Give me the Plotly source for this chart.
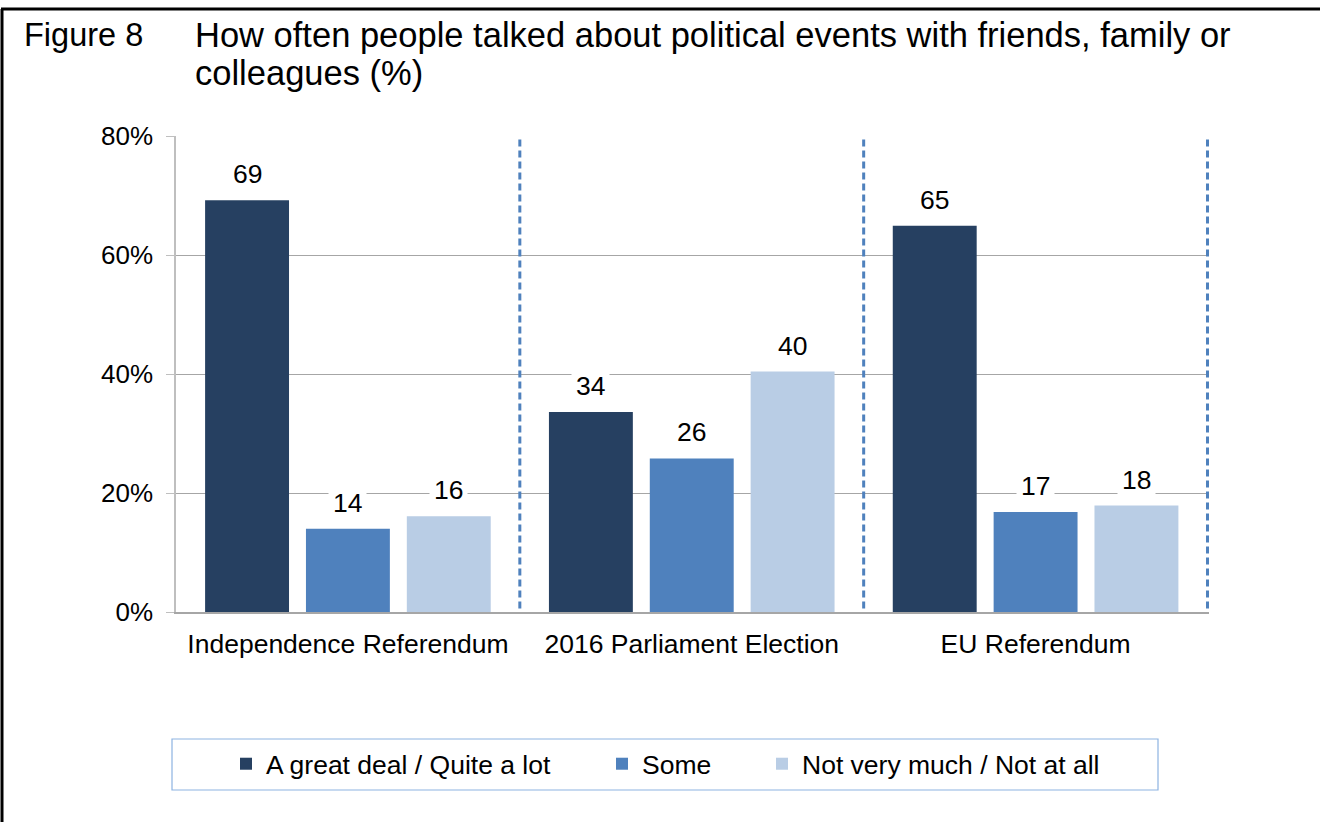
import plotly.graph_objects as go

# ---------------- data ----------------
categories = ["Independence Referendum", "2016 Parliament Election", "EU Referendum"]
series_names = ["A great deal / Quite a lot", "Some", "Not very much / Not at all"]
great_deal = [69.2, 33.6, 64.9]
some = [14.0, 25.8, 16.8]
not_much = [16.1, 40.4, 17.9]
series_values = [great_deal, some, not_much]
y_ticks = [0, 20, 40, 60, 80]
y_tick_labels = ["0%", "20%", "40%", "60%", "80%"]
title_label = "Figure 8"
title_lines = ["How often people talked about political events with friends, family or",
               "colleagues (%)"]

# ---------------- style ----------------
colors = ["#264061", "#4F81BD", "#B9CDE5"]
FONT = "Liberation Sans, Arial, sans-serif"
W, H = 1320, 822
L, R, T, B = 176, 1209, 136, 612
BARGAP = 0.12
GROUPGAP = 0.168


def px_x(p):
    return (p - L) / (R - L)


def px_y(p):
    return (B - p) / (B - T)


fig = go.Figure()
legend_ids = ["legend", "legend2", "legend3"]
for name, vals, col, lg in zip(series_names, series_values, colors, legend_ids):
    fig.add_trace(go.Bar(
        x=categories, y=vals, name=name, marker_color=col,
        marker_line_width=0, legend=lg, hoverinfo="skip",
    ))

# data labels
n = len(series_names)
slot = (1 - BARGAP) / n
annotations = []
for j, vals in enumerate(series_values):
    for i, v in enumerate(vals):
        annotations.append(dict(
            x=i + (j - (n - 1) / 2) * slot, y=v, xref="x", yref="y",
            text=f"{round(v):d}", showarrow=False, yanchor="middle", yshift=26,
            font=dict(family=FONT, size=26.5, color="#000000"),
            bgcolor="#FFFFFF", borderpad=4,
        ))

# title
annotations.append(dict(
    x=px_x(22), y=px_y(35), xref="paper", yref="paper", xanchor="left", yanchor="middle",
    text=title_label, showarrow=False, font=dict(family=FONT, size=32.5, color="#000000")))
for k, line in enumerate(title_lines):
    annotations.append(dict(
        x=px_x(193), y=px_y(35 + 38 * k), xref="paper", yref="paper", xanchor="left",
        yanchor="middle", text=line, showarrow=False,
        font=dict(family=FONT, size=34.5, color="#000000")))

shapes = []
# dashed category separators
for s in range(len(categories)):
    shapes.append(dict(type="line", xref="x", yref="y", x0=s + 0.5, x1=s + 0.5,
                       y0=0.6, y1=80, layer="above",
                       line=dict(color="#4F81BD", width=3, dash="7px,4px")))
# legend box
shapes.append(dict(type="rect", xref="paper", yref="paper",
                   x0=px_x(172), x1=px_x(1158), y0=px_y(790), y1=px_y(739),
                   line=dict(color="#8DB3E2", width=1.2), fillcolor="rgba(0,0,0,0)"))
# outer border lines (left and top)
shapes.append(dict(type="line", xref="paper", yref="paper",
                   x0=px_x(2), x1=px_x(2), y0=px_y(9), y1=px_y(830),
                   line=dict(color="#000000", width=3)))
shapes.append(dict(type="line", xref="paper", yref="paper",
                   x0=px_x(1), x1=px_x(1330), y0=px_y(9), y1=px_y(9),
                   line=dict(color="#000000", width=3)))

legend_common = dict(orientation="h", bgcolor="rgba(0,0,0,0)", borderwidth=0,
                     font=dict(family=FONT, size=26.5, color="#000000"),
                     xanchor="left", yanchor="middle", itemclick=False)
legend_x = [246, 622, 782]
layout_legends = {}
for lg, mx in zip(legend_ids, legend_x):
    layout_legends[lg] = dict(legend_common, x=px_x(mx - 20), y=px_y(764))

fig.update_layout(
    width=W, height=H,
    margin=dict(l=L, r=W - R, t=T, b=H - B, pad=0),
    paper_bgcolor="#FFFFFF", plot_bgcolor="#FFFFFF",
    barmode="group", bargap=BARGAP, bargroupgap=GROUPGAP,
    showlegend=True,
    annotations=annotations, shapes=shapes,
    font=dict(family=FONT, size=26, color="#000000"),
    xaxis=dict(showgrid=False, showline=True, linecolor="#A6A6A6", linewidth=1.5,
               ticks="", tickfont=dict(family=FONT, size=26.5, color="#000000"),
               ticklabelstandoff=7, fixedrange=True),
    yaxis=dict(range=[0, 80], tickvals=y_ticks, ticktext=y_tick_labels,
               showgrid=True, gridcolor="#A6A6A6", gridwidth=1.2,
               showline=True, linecolor="#BFBFBF", linewidth=1.5,
               ticks="outside", ticklen=8, tickcolor="#BFBFBF", tickwidth=1.2,
               tickfont=dict(family=FONT, size=26, color="#000000"),
               ticklabelstandoff=8, zeroline=False, fixedrange=True),
    **layout_legends,
)

fig.write_html("out.html", include_plotlyjs=True, config={"displayModeBar": False})
